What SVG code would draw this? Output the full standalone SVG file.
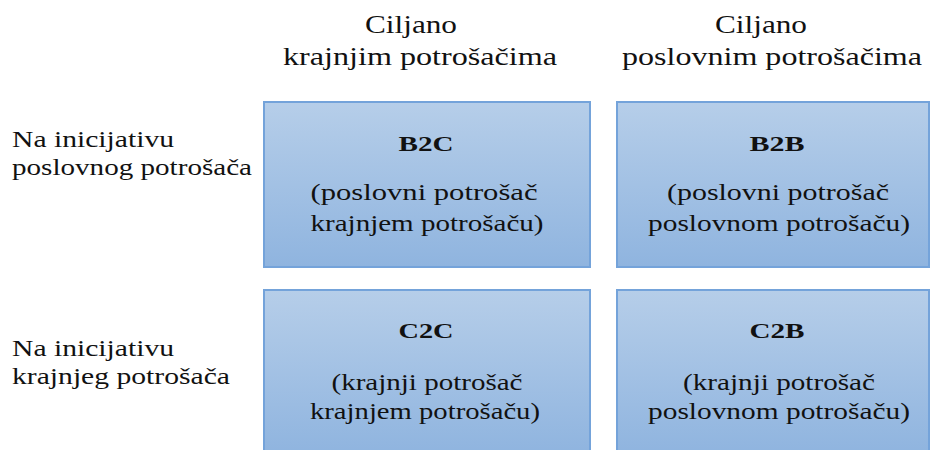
<svg xmlns="http://www.w3.org/2000/svg" width="931" height="450" viewBox="0 0 931 450">
<defs>
<linearGradient id="g" x1="0" y1="0" x2="0" y2="1">
<stop offset="0" stop-color="#b6cee9"/>
<stop offset="1" stop-color="#8fb4df"/>
</linearGradient>
</defs>
<style>
.box{fill:url(#g);stroke:#74a3da;stroke-width:2}
text{font-family:"Liberation Serif","Times New Roman",serif;fill:#111}
.hd{font-size:26px;text-anchor:middle}
.lb{font-size:23px}
.tt{font-size:22px;font-weight:bold;text-anchor:middle}
.bd{font-size:23px;text-anchor:middle}
</style>
<rect width="931" height="450" fill="#fff"/>
<g id="header-col1">
<text class="hd" x="411" y="33" textLength="92" lengthAdjust="spacingAndGlyphs">Ciljano</text>
<text class="hd" x="420" y="65" textLength="274" lengthAdjust="spacingAndGlyphs">krajnjim potrošačima</text>
</g>
<g id="header-col2">
<text class="hd" x="761" y="33" textLength="92" lengthAdjust="spacingAndGlyphs">Ciljano</text>
<text class="hd" x="772" y="65" textLength="300" lengthAdjust="spacingAndGlyphs">poslovnim potrošačima</text>
</g>
<g id="label-row1">
<text class="lb" x="12" y="147" textLength="162" lengthAdjust="spacingAndGlyphs">Na inicijativu</text>
<text class="lb" x="12" y="175" textLength="240" lengthAdjust="spacingAndGlyphs">poslovnog potrošača</text>
</g>
<g id="label-row2">
<text class="lb" x="12" y="356" textLength="162" lengthAdjust="spacingAndGlyphs">Na inicijativu</text>
<text class="lb" x="12" y="384" textLength="218" lengthAdjust="spacingAndGlyphs">krajnjeg potrošača</text>
</g>
<g id="connectors"></g>
<g id="B2C">
<rect class="box" x="264" y="102" width="326" height="165"/>
<text class="tt" x="426" y="151" textLength="55" lengthAdjust="spacingAndGlyphs">B2C</text>
<text class="bd" x="424" y="200" textLength="227" lengthAdjust="spacingAndGlyphs">(poslovni potrošač</text>
<text class="bd" x="427" y="231" textLength="233" lengthAdjust="spacingAndGlyphs">krajnjem potrošaču)</text>
</g>
<g id="B2B">
<rect class="box" x="617" y="102" width="312" height="165"/>
<text class="tt" x="777" y="151" textLength="55" lengthAdjust="spacingAndGlyphs">B2B</text>
<text class="bd" x="778" y="200" textLength="222" lengthAdjust="spacingAndGlyphs">(poslovni potrošač</text>
<text class="bd" x="779" y="231" textLength="262" lengthAdjust="spacingAndGlyphs">poslovnom potrošaču)</text>
</g>
<g id="C2C">
<rect class="box" x="264" y="290" width="326" height="165"/>
<text class="tt" x="426" y="338" textLength="55" lengthAdjust="spacingAndGlyphs">C2C</text>
<text class="bd" x="427" y="390" textLength="191" lengthAdjust="spacingAndGlyphs">(krajnji potrošač</text>
<text class="bd" x="425" y="419" textLength="230" lengthAdjust="spacingAndGlyphs">krajnjem potrošaču)</text>
</g>
<g id="C2B">
<rect class="box" x="617" y="290" width="312" height="165"/>
<text class="tt" x="777" y="338" textLength="55" lengthAdjust="spacingAndGlyphs">C2B</text>
<text class="bd" x="779" y="390" textLength="192" lengthAdjust="spacingAndGlyphs">(krajnji potrošač</text>
<text class="bd" x="779" y="419" textLength="262" lengthAdjust="spacingAndGlyphs">poslovnom potrošaču)</text>
</g>
</svg>
